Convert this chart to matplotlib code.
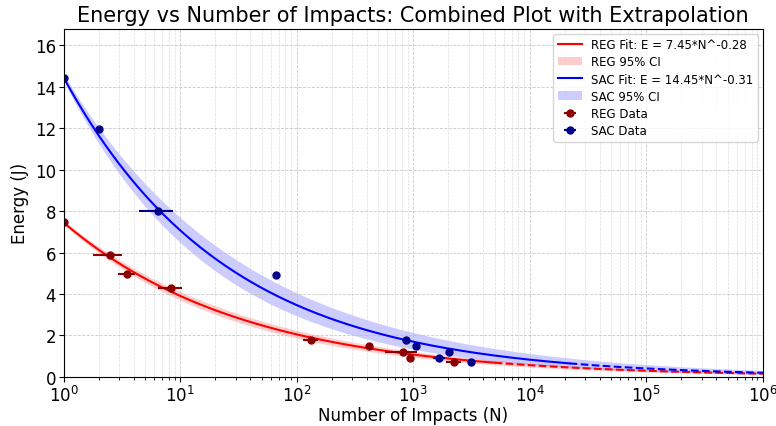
import numpy as np
import matplotlib.pyplot as plt

# --- measured data ---
reg_n = [1, 2.5, 3.5, 8.4, 133, 421, 821, 935, 2230]
reg_e = [7.48, 5.89, 4.98, 4.29, 1.76, 1.48, 1.18, 0.90, 0.70]
reg_nerr = [0, 0.7, 0.6, 2.0, 20, 0, 250, 0, 330]

sac_n = [1, 2, 6.5, 67, 860, 1048, 1667, 2018, 3160]
sac_e = [14.45, 11.97, 8.0, 4.92, 1.77, 1.48, 0.90, 1.18, 0.70]
sac_nerr = [0, 0, 2.1, 0, 0, 0, 200, 0, 0]

# power-law fits E = a * N^b and 95% CI bounds on the parameters
reg_a, reg_b = 7.45, -0.28
reg_a_ci = (7.35, 7.55)
reg_b_ci = (-0.297, -0.263)
sac_a, sac_b = 14.45, -0.31
sac_a_ci = (14.3, 14.6)
sac_b_ci = (-0.343, -0.278)

# fitted range (solid) vs extrapolation (dashed)
reg_fit_max = 5000
sac_fit_max = 22000
n_max = 1e6


def power(n, a, b):
    return a * np.power(n, b)


fig, ax = plt.subplots(figsize=(7.76, 4.27), dpi=100)
fig.subplots_adjust(left=0.082, right=0.983, bottom=0.115, top=0.93)

n_all = np.logspace(0, 6, 400)

for name, a, b, a_ci, b_ci, fmax, col in [
    ("REG", reg_a, reg_b, reg_a_ci, reg_b_ci, reg_fit_max, "red"),
    ("SAC", sac_a, sac_b, sac_a_ci, sac_b_ci, sac_fit_max, "blue"),
]:
    n_fit = np.logspace(0, np.log10(fmax), 300)
    n_ext = np.logspace(np.log10(fmax), np.log10(n_max), 200)
    lo = power(n_all, a_ci[0], b_ci[0])
    hi = power(n_all, a_ci[1], b_ci[1])
    ax.plot(n_fit, power(n_fit, a, b), color=col, lw=1.5,
            label=f"{name} Fit: E = {a:.2f}*N^{b:.2f}")
    ax.fill_between(n_all, lo, hi, color=col, alpha=0.2, lw=0,
                    label=f"{name} 95% CI")
    ax.plot(n_ext, power(n_ext, a, b), color=col, lw=1.5, ls="--")

ax.errorbar(reg_n, reg_e, xerr=reg_nerr, fmt="o", color="darkred",
            ms=5, elinewidth=1.5, capsize=0, label="REG Data")
ax.errorbar(sac_n, sac_e, xerr=sac_nerr, fmt="o", color="darkblue",
            ms=5, elinewidth=1.5, capsize=0, label="SAC Data")

ax.set_xscale("log")
ax.set_xlim(1, n_max)
ax.set_ylim(0, 16.8)
ax.grid(True, which="major", ls="--", lw=0.6, color="#bbbbbb", alpha=0.8)
ax.grid(True, which="minor", ls="--", lw=0.5, color="#cccccc", alpha=0.7)
ax.tick_params(labelsize=12, pad=2)
ax.set_xlabel("Number of Impacts (N)", fontsize=12, labelpad=1)
ax.set_ylabel("Energy (J)", fontsize=12)
ax.set_title("Energy vs Number of Impacts: Combined Plot with Extrapolation",
             fontsize=15)
ax.legend(loc="upper right", fontsize=8.5, labelspacing=0.35,
          borderaxespad=0.4)

fig.savefig("out.png", dpi=100)
